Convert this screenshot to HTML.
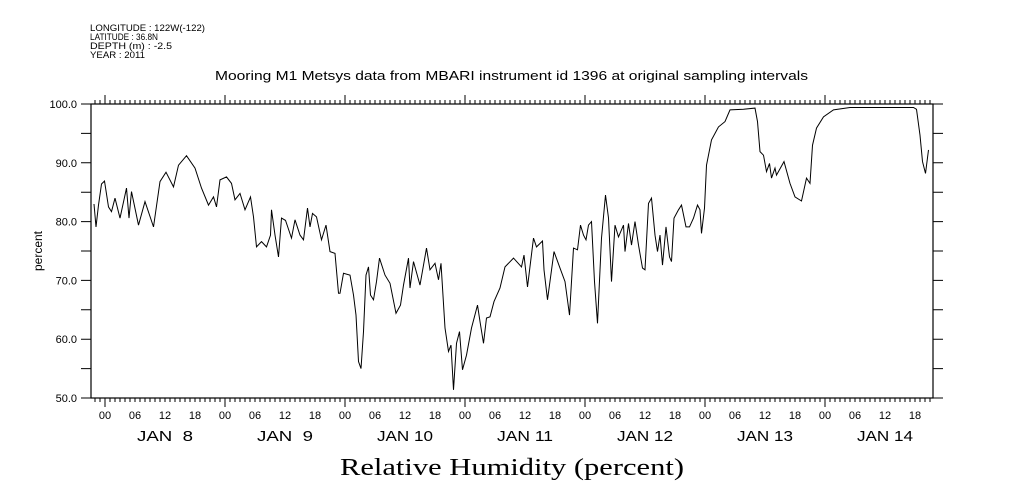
<!DOCTYPE html>
<html><head><meta charset="utf-8"><style>
body{margin:0;background:#fff;}
svg{display:block;font-family:"Liberation Sans",sans-serif;}
</style></head><body>
<svg id="chart" width="1009" height="504" viewBox="0 0 1009 504">
<rect width="1009" height="504" fill="#fff"/>
<g font-size="9.5" fill="#000">
<text x="90" y="31" textLength="115" lengthAdjust="spacingAndGlyphs">LONGITUDE : 122W(-122)</text>
<text x="90" y="40" textLength="68" lengthAdjust="spacingAndGlyphs">LATITUDE : 36.8N</text>
<text x="90" y="49" textLength="82" lengthAdjust="spacingAndGlyphs">DEPTH (m) : -2.5</text>
<text x="90" y="58" textLength="55" lengthAdjust="spacingAndGlyphs">YEAR : 2011</text>
</g>
<text x="215" y="80" font-size="12.5" textLength="593" lengthAdjust="spacingAndGlyphs">Mooring M1 Metsys data from MBARI instrument id 1396 at original sampling intervals</text>
<text x="340" y="475" font-family="Liberation Serif,serif" font-size="24" textLength="344" lengthAdjust="spacingAndGlyphs">Relative Humidity (percent)</text>
<text transform="translate(42,251) rotate(-90)" text-anchor="middle" font-size="12">percent</text>
<g id="axes"></g>
<path id="series" fill="none" stroke="#000" stroke-width="1"/>
</svg>
<script>
const hours=[-2.2,-1.8,-1.3,-0.7,-0.1,0.7,1.3,2.0,3.0,4.3,4.8,5.3,6.7,8.0,9.7,11.0,12.2,13.7,14.7,16.3,18.0,19.3,20.7,21.7,22.3,23.0,24.3,25.3,26.0,27.0,28.0,29.1,29.7,30.3,31.3,32.3,33.1,33.3,34.0,34.7,35.3,36.1,37.3,38.0,39.0,39.7,40.5,41.0,41.5,42.3,43.3,44.2,45.0,46.0,46.7,47.0,47.7,49.0,49.7,50.2,50.7,51.2,51.7,52.2,52.7,53.1,53.7,54.3,54.9,56.0,57.0,58.2,59.1,59.7,60.7,61.0,61.7,63.0,64.3,65.0,66.0,66.7,67.2,68.0,68.7,69.2,69.7,70.3,70.9,71.5,72.3,73.3,74.5,75.0,75.7,76.3,77.0,77.8,79.0,80.0,81.7,83.3,83.8,84.5,85.7,86.3,87.5,87.8,88.5,89.8,91.0,92.0,92.9,93.7,94.5,95.1,95.7,96.2,96.7,97.3,97.9,98.5,99.3,100.1,100.7,101.3,102.0,102.7,103.7,104.0,104.7,105.3,106.0,106.7,107.5,108.0,108.7,109.3,110.0,110.5,111.0,111.5,112.2,112.9,113.3,113.8,114.7,115.3,116.2,116.9,117.7,118.5,119.0,119.3,119.9,120.3,121.3,122.7,124.0,125.0,127.7,130.0,130.5,131.0,131.7,132.3,132.9,133.3,134.0,134.3,135.8,137.0,138.0,139.3,140.3,141.0,141.5,142.3,143.7,145.7,149.0,161.7,162.3,163.0,163.5,164.1,164.7];
const humidity=[83.0,79.1,82.8,86.4,86.9,82.5,81.7,84,80.6,85.7,80.6,85.1,79.4,83.4,79.1,86.8,88.4,85.9,89.6,91.2,89.1,85.7,82.8,84.2,82.5,87.1,87.6,86.5,83.7,84.8,82,84.2,80.8,75.7,76.6,75.7,77.7,82,77.7,74.0,80.6,80.2,77.2,80.3,77.7,76.9,82.3,79.1,81.4,80.8,76.9,79.4,74.9,74.6,67.8,67.8,71.2,70.9,67.5,64.1,56.2,55.0,61.3,70.9,72.3,67.5,66.7,69.8,73.8,70.9,69.5,64.4,65.8,69.2,73.8,68.7,73.2,69.2,75.5,71.8,72.9,70.1,72.9,61.9,57.9,59.0,51.4,59.3,61.3,54.8,57.3,61.9,65.8,63.0,59.3,63.6,63.8,66.4,68.7,72.3,73.8,72.3,74.3,68.9,77.2,75.7,76.7,71.8,66.7,74.9,72.1,69.8,64.1,75.5,75.2,79.4,77.7,76.9,79.4,80.0,69.8,62.7,77.2,84.5,80.6,69.8,79.4,77.4,79.4,74.9,79.7,76.0,80.0,76.0,72.1,71.8,83.1,84.0,77.7,74.9,77.7,72.6,79.1,74.0,73.2,80.6,82.0,82.8,79.1,79.1,80.6,82.8,82.0,78.0,82.3,89.6,93.9,96.1,97.0,99.0,99.1,99.3,97.0,91.9,91.3,88.5,89.9,87.4,89.1,87.9,90.2,86.5,84.2,83.5,87.4,86.5,93.0,95.9,97.8,99.0,99.4,99.4,99.1,94.7,90.2,88.2,92.2];
const yTicks=[50,60,70,80,90,100];
const hourLabels=["00","06","12","18"];
const dayLabels=["JAN  8","JAN  9","JAN 10","JAN 11","JAN 12","JAN 13","JAN 14"];

const L=91,R=933,T=104,B=398,X0=105,PX_PER_H=5;
const xs=h=>X0+h*PX_PER_H;
const ys=v=>B-(v-50)/50*(B-T);
const NS="http://www.w3.org/2000/svg";
const ax=document.getElementById('axes');
function mk(tag,attrs,parent){const e=document.createElementNS(NS,tag);for(const k in attrs)e.setAttribute(k,attrs[k]);(parent||ax).appendChild(e);return e;}
const frame=mk('rect',{x:L,y:T,width:R-L,height:B-T,fill:'none',stroke:'#000','stroke-width':1.2});


let d='';
for(let h=-2;h<=167;h++){const x=xs(h);if(x<L||x>R)continue;const len=(h%24===0)?9:4;
 d+=`M${x} ${T}V${T-len}M${x} ${B}V${B+len}`;}
for(let v=50;v<=100;v+=5){const y=ys(v);d+=`M${L} ${y}H${L-10}M${R} ${y}H${R+10}`;}
const tk=mk('path',{d:d,stroke:'#000','stroke-width':1,fill:'none'});


yTicks.forEach(v=>{const t=mk('text',{x:77,y:ys(v)+4,'text-anchor':'end','font-size':11});t.textContent=v.toFixed(1);
 
 });
dayLabels.forEach((lab,i)=>{
 hourLabels.forEach((hl,j)=>{const x=xs(i*24+j*6);const t=mk('text',{x:x,y:419,'text-anchor':'middle','font-size':11});t.textContent=hl;
  
  });
 const t=mk('text',{x:xs(i*24+12)-28,y:441,'font-size':15,textLength:56,lengthAdjust:'spacingAndGlyphs'});t.textContent=lab;t.style.whiteSpace='pre';
 
 
});
let p='';hours.forEach((h,i)=>{p+=(i?'L':'M')+xs(h).toFixed(1)+' '+ys(humidity[i]).toFixed(1);});
document.getElementById('series').setAttribute('d',p);
</script>
</body></html>
